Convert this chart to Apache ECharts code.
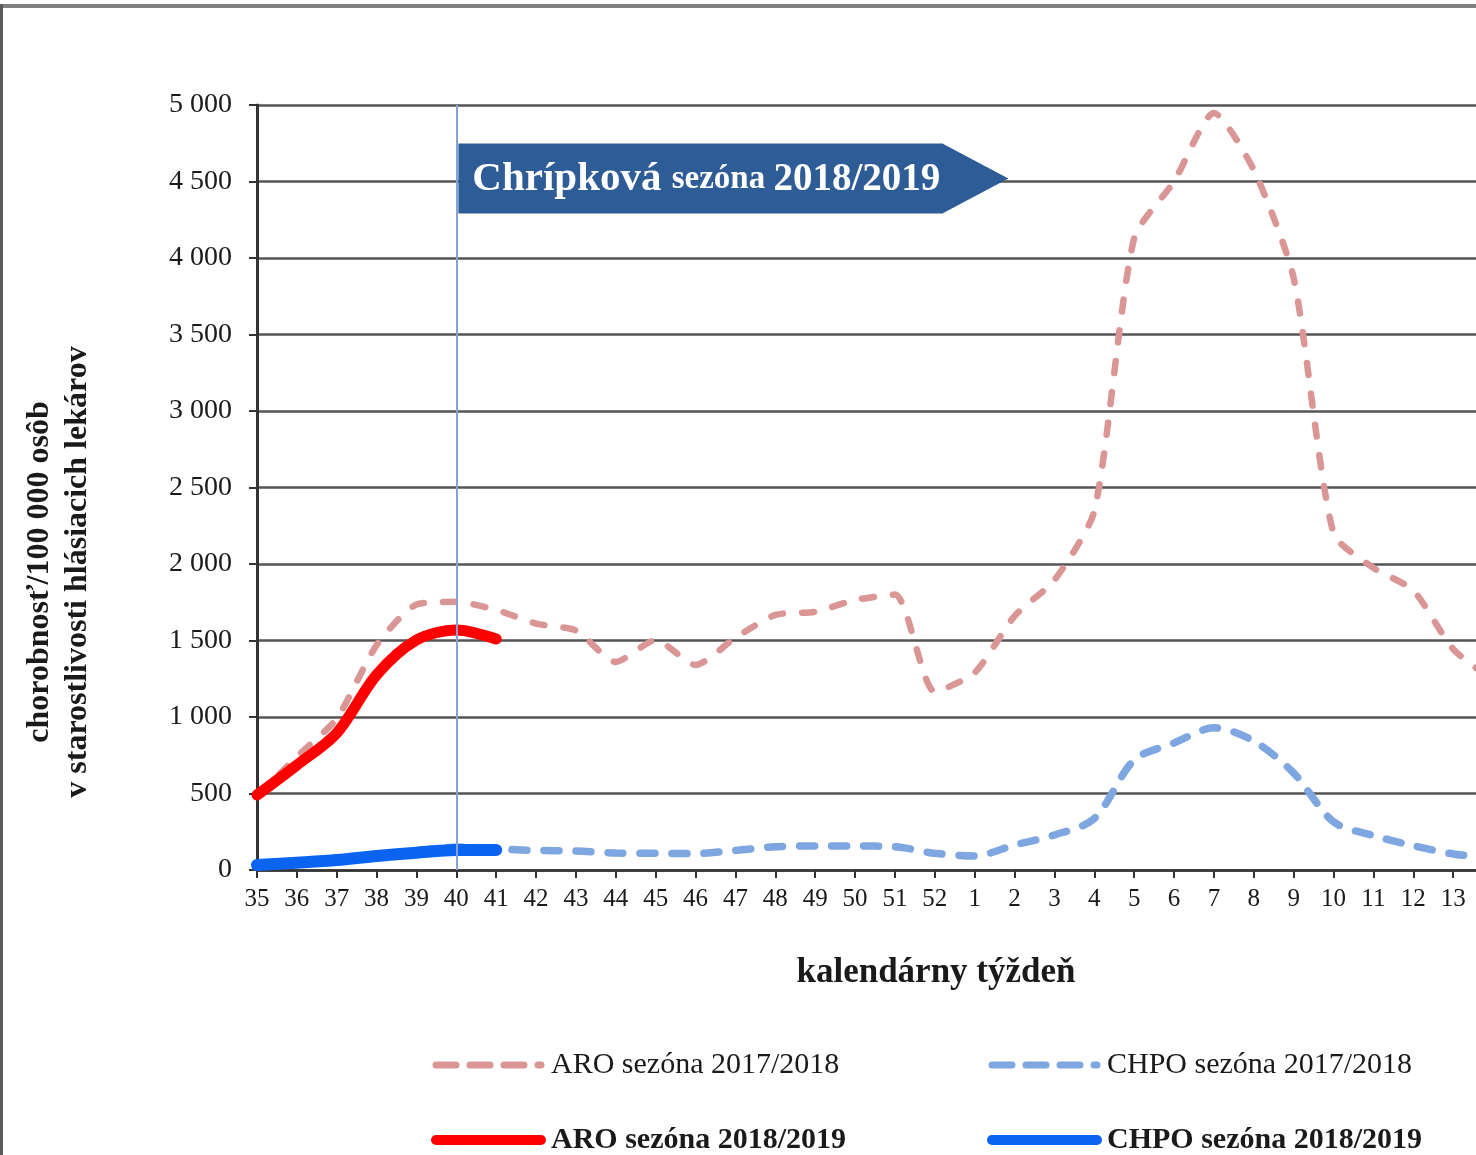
<!DOCTYPE html>
<html>
<head>
<meta charset="utf-8">
<script src="https://cdn.jsdelivr.net/npm/echarts@6/dist/echarts.min.js"></script>
<style>html,body{margin:0;padding:0;background:#fff}#c{width:1476px;height:1155px}</style>
</head>
<body>
<div id="c"></div>
<script>
// calendar weeks (x tick labels); the last one lies beyond the visible edge
const weeks = ['35','36','37','38','39','40','41','42','43','44','45','46','47','48','49','50','51','52',
  '1','2','3','4','5','6','7','8','9','10','11','12','13','14'];
const aro1718 = [480, 740, 990, 1470, 1735, 1753, 1700, 1610, 1565, 1360, 1503, 1340, 1518, 1667, 1688, 1765, 1800, 1166,
  1290, 1660, 1895, 2346, 4130, 4500, 4948, 4575, 3870, 2200, 1975, 1828, 1444, 1240];
const chpo1718 = [30, 45, 62, 95, 125, 150, 138, 128, 124, 111, 109, 107, 128, 152, 157, 157, 152, 109,
  92, 163, 229, 336, 719, 830, 929, 843, 634, 315, 225, 159, 105, 80];
const aro1819 = [490, 686, 895, 1275, 1503, 1569, 1510];
const chpo1819 = [33, 48, 65, 91, 113, 131, 131];
const seriesNames = ['ARO sezóna 2017/2018', 'CHPO sezóna 2017/2018', 'ARO sezóna 2018/2019', 'CHPO sezóna 2018/2019'];
const seasonStartWeek = '40';
const bannerParts = ['Chrípková', 'sezóna', '2018/2019'];

const SERIF = '"Liberation Serif", "DejaVu Serif", serif';
const COL = { aroOld: '#d99694', chpoOld: '#7ea6e0', aroNew: '#ff0000', chpoNew: '#0a64f0' };
const chart = echarts.init(document.getElementById('c'));

chart.setOption({
  animation: false,
  backgroundColor: '#fff',
  grid: { left: 257, top: 105, bottom: 285, right: -17, containLabel: false, outerBoundsMode: 'none' },
  xAxis: {
    type: 'category', data: weeks, boundaryGap: false,
    axisLine: { show: true, lineStyle: { color: '#333', width: 2.5 } },
    axisTick: { show: true, length: 8, interval: 0, lineStyle: { color: '#333', width: 2 } },
    axisLabel: { interval: 0, margin: 17, fontFamily: SERIF, fontSize: 25, color: '#1a1a1a' },
    splitLine: { show: false }
  },
  yAxis: {
    type: 'value', min: 0, max: 5000, interval: 500,
    axisLine: { show: true, lineStyle: { color: '#333', width: 3 } },
    axisTick: { show: true, length: 8, lineStyle: { color: '#333', width: 2 } },
    axisLabel: {
      margin: 25, fontFamily: SERIF, fontSize: 28, color: '#1a1a1a',
      formatter: v => String(v).replace(/\B(?=(\d{3})+(?!\d))/g, ' ')
    },
    splitLine: { show: true, lineStyle: { color: '#555', width: 2.6 } }
  },
  series: [
    {
      name: seriesNames[0], type: 'line', data: aro1718, smooth: 0.22, symbol: 'none', z: 2,
      itemStyle: { color: COL.aroOld },
      lineStyle: { color: COL.aroOld, width: 6.5, type: [12, 19], cap: 'round' },
      markLine: {
        silent: true, symbol: 'none', label: { show: false },
        lineStyle: { color: '#86a3d3', width: 2, type: 'solid' },
        data: [{ xAxis: seasonStartWeek }]
      }
    },
    {
      name: seriesNames[1], type: 'line', data: chpo1718, smooth: 0.3, symbol: 'none', z: 2,
      itemStyle: { color: COL.chpoOld },
      lineStyle: { color: COL.chpoOld, width: 7.5, type: [15, 17], cap: 'round' }
    },
    {
      name: seriesNames[2], type: 'line', data: aro1819, smooth: 0.3, symbol: 'none', z: 4,
      itemStyle: { color: COL.aroNew },
      lineStyle: { color: COL.aroNew, width: 11, cap: 'round', join: 'round' }
    },
    {
      name: seriesNames[3], type: 'line', data: chpo1819, smooth: 0.3, symbol: 'none', z: 4,
      itemStyle: { color: COL.chpoNew },
      lineStyle: { color: COL.chpoNew, width: 12, cap: 'round', join: 'round' }
    }
  ]
});

// annotation banner anchored at the season start week
const p = chart.convertToPixel({ gridIndex: 0 }, [seasonStartWeek, 4520]);
const bx = p[0] + 2, by = p[1];

function legendEntry(x, y, name, color, width, dash, bold) {
  return [
    {
      type: 'line', silent: true,
      shape: { x1: x + 4, y1: y, x2: x + 109, y2: y },
      style: { stroke: color, lineWidth: width, lineDash: dash, lineCap: 'round' }
    },
    {
      type: 'text', silent: true, x: x + 119, y: y,
      style: {
        text: name, fontFamily: SERIF, fontSize: 30, fontWeight: bold ? 'bold' : 'normal', fill: '#1a1a1a',
        textAlign: 'left', textVerticalAlign: 'middle'
      }
    }
  ];
}

chart.setOption({
  graphic: [
    { type: 'rect', shape: { x: 0, y: 4, width: 1476, height: 4 }, style: { fill: '#808080' }, silent: true },
    { type: 'rect', shape: { x: 0, y: 4, width: 3, height: 1151 }, style: { fill: '#5a5a5a' }, silent: true },
    {
      type: 'polygon', silent: true, z: 10,
      shape: { points: [[bx, by - 35], [bx + 484, by - 35], [bx + 550, by], [bx + 484, by + 35], [bx, by + 35]] },
      style: { fill: '#2e5c96' }
    },
    {
      type: 'text', silent: true, z: 11, x: bx + 14, y: by + 1,
      style: {
        text: '{a|' + bannerParts[0] + ' }{b|' + bannerParts[1] + ' }{c|' + bannerParts[2] + '}',
        textVerticalAlign: 'middle', textAlign: 'left',
        rich: {
          a: { fontFamily: SERIF, fontWeight: 'bold', fontSize: 41, fill: '#fff', color: '#fff' },
          b: { fontFamily: SERIF, fontWeight: 'bold', fontSize: 33, fill: '#fff', color: '#fff' },
          c: { fontFamily: SERIF, fontWeight: 'bold', fontSize: 39, fill: '#fff', color: '#fff' }
        }
      }
    },
    {
      type: 'text', silent: true, x: 936, y: 973,
      style: {
        text: 'kalendárny týždeň', fontFamily: SERIF, fontWeight: 'bold', fontSize: 35, fill: '#1a1a1a',
        textAlign: 'center', textVerticalAlign: 'middle'
      }
    },
    {
      type: 'text', silent: true, x: 59, y: 572, rotation: Math.PI / 2,
      style: {
        text: 'chorobnosť/100 000 osôb\nv starostlivosti hlásiacich lekárov',
        fontFamily: SERIF, fontWeight: 'bold', fontSize: 32, lineHeight: 38, fill: '#1a1a1a',
        textAlign: 'center', textVerticalAlign: 'middle'
      }
    },
    ...legendEntry(432, 1065, seriesNames[0], COL.aroOld, 7, [20, 14], false),
    ...legendEntry(988, 1065, seriesNames[1], COL.chpoOld, 7, [20, 14], false),
    ...legendEntry(432, 1140, seriesNames[2], COL.aroNew, 10, null, true),
    ...legendEntry(988, 1140, seriesNames[3], COL.chpoNew, 10, null, true)
  ]
});
</script>
</body>
</html>
